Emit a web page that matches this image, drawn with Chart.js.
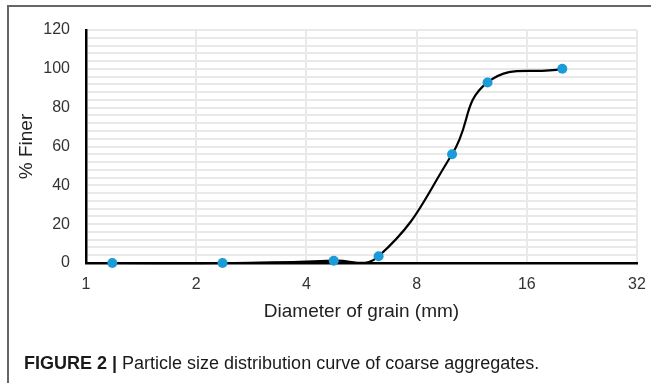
<!DOCTYPE html>
<html>
<head>
<meta charset="utf-8">
<script src="https://cdn.jsdelivr.net/npm/chart.js@4/dist/chart.umd.min.js"></script>
<style>
  html, body { margin: 0; padding: 0; background: #fff; }
  #wrap { position: relative; width: 651px; height: 383px; overflow: hidden; }
  #frame { position: absolute; left: 7px; top: 5px; right: -2px; bottom: -2px; border-left: 2px solid #666; border-top: 2px solid #666; }
  #chart { position: absolute; left: 0; top: 0; }
  #caption { position: absolute; left: 24px; top: 353px; font: 18px "Liberation Sans", Arial, sans-serif; color: #1a1a1a; white-space: nowrap; }
  #caption b { font-weight: bold; }
</style>
</head>
<body>
<div id="wrap">
  <div id="frame"></div>
  <canvas id="chart" width="651" height="383"></canvas>
  <div id="caption"><b>FIGURE 2 |</b> Particle size distribution curve of coarse aggregates.</div>
</div>
<script>
const sieveSizes = [1.18, 2.36, 4.75, 6.3, 10, 12.5, 20];
const percentFiner = [0, 0, 1.2, 3.5, 56, 93, 100];
const xTicks = [1, 2, 4, 8, 16, 32];

const font = "'Liberation Sans', Arial, sans-serif";
const gridColor = "#e9e9e9";

new Chart(document.getElementById("chart"), {
  type: "line",
  data: {
    datasets: [{
      data: sieveSizes.map((x, i) => ({ x, y: percentFiner[i] })),
      borderColor: "#000",
      borderWidth: 2.2,
      tension: 0.45,
      capBezierPoints: false,
      pointRadius: 5,
      pointBackgroundColor: "#1b9bd8",
      pointBorderColor: "#1b9bd8",
      pointBorderWidth: 0,
      clip: false
    }]
  },
  options: {
    responsive: false,
    animation: false,
    layout: { padding: { top: 30, right: 14, bottom: 60, left: 0 } },
    plugins: { legend: { display: false }, tooltip: { enabled: false } },
    scales: {
      x: {
        type: "logarithmic",
        min: 1,
        max: 32,
        afterBuildTicks: scale => { scale.ticks = xTicks.map(v => ({ value: v })); },
        afterFit: scale => {
          scale.height = 60;
          scale.paddingLeft = 0;
          scale.paddingRight = 0;
        },
        grid: { color: gridColor, lineWidth: 2, drawTicks: false },
        border: { color: "#000", width: 2.5 },
        ticks: { color: "#333", font: { family: font, size: 16 }, padding: 12, callback: v => v },
        title: { display: true, text: "Diameter of grain (mm)", color: "#222", font: { family: font, size: 19 }, padding: { top: 2, bottom: 0 } }
      },
      y: {
        min: 0,
        max: 120,
        afterFit: scale => { scale.width = 86; },
        grid: { color: gridColor, lineWidth: 2, drawTicks: false },
        border: { color: "#000", width: 2.5 },
        ticks: {
          stepSize: 4,
          autoSkip: false,
          color: "#333",
          font: { family: font, size: 16 },
          padding: 16,
          callback: v => (v % 20 === 0 ? v : "")
        },
        title: { display: true, text: "% Finer", color: "#222", font: { family: font, size: 19 }, padding: { top: 15, bottom: 0 } }
      }
    }
  }
});
</script>
</body>
</html>
